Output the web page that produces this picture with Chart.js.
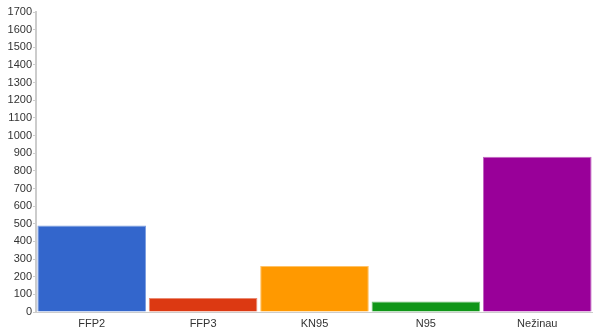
<!DOCTYPE html>
<html>
<head>
<meta charset="utf-8">
<script src="https://cdn.jsdelivr.net/npm/chart.js@4/dist/chart.umd.min.js"></script>
<style>
  html, body { margin: 0; padding: 0; background: #fff; }
  #wrap { width: 593px; height: 331px; }
</style>
</head>
<body>
<div id="wrap"><canvas id="c" width="593" height="331"></canvas></div>
<script>
// Respirator types and how many respondents chose each
const categories = ['FFP2', 'FFP3', 'KN95', 'N95', 'Nežinau'];
const counts = [490, 80, 260, 60, 880];
const barColors = ['#3366CC', '#DC3912', '#FF9900', '#109618', '#990099'];
const edgeColors = ['#7fa0e0', '#ea8a72', '#ffc266', '#6fc075', '#c266c2'];
const yTicks = { min: 0, max: 1700, step: 100 };

new Chart(document.getElementById('c'), {
  type: 'bar',
  data: {
    labels: categories,
    datasets: [{
      data: counts,
      backgroundColor: barColors,
      borderColor: edgeColors,
      borderWidth: 1,
      barPercentage: 0.975,
      categoryPercentage: 1.0
    }]
  },
  options: {
    responsive: false,
    animation: false,
    layout: { padding: { top: 12, right: 0, left: 0, bottom: 0 } },
    plugins: { legend: { display: false }, tooltip: { enabled: false } },
    scales: {
      x: {
        grid: { display: false, drawOnChartArea: false, drawTicks: true, tickLength: 3, color: '#ccc' },
        border: { display: true, color: '#ccc', width: 1 },
        ticks: { color: '#333', font: { family: 'Liberation Sans, Arial, sans-serif', size: 11 }, padding: 2, maxRotation: 0 },
        afterFit: s => { s.height = 19; }
      },
      y: {
        min: yTicks.min,
        max: yTicks.max,
        grid: { drawOnChartArea: false, drawTicks: true, tickLength: 3, color: '#ccc' },
        border: { display: true, color: '#ccc', width: 2 },
        ticks: {
          stepSize: yTicks.step,
          color: '#333',
          font: { family: 'Liberation Sans, Arial, sans-serif', size: 11 },
          padding: 1,
          callback: v => String(v)
        },
        afterFit: s => { s.width = 36; }
      }
    }
  }
});
</script>
</body>
</html>
